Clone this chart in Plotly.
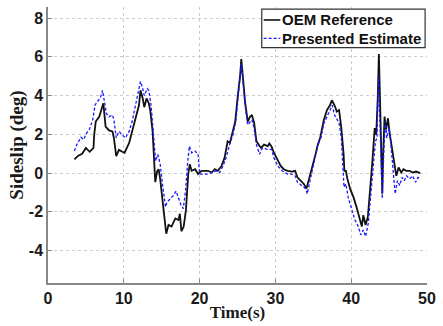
import plotly.graph_objects as go

# OEM reference (black, solid)
t_ref = [3.48, 4.0, 4.5, 5.0, 5.5, 6.0, 6.1, 6.3, 6.75, 7.0, 7.3, 7.6, 8.05, 8.5, 8.7, 9.0, 9.36, 9.8, 10.1,
         10.7, 11.1, 11.5, 12.0, 12.2, 12.5, 12.7, 13.0, 13.3, 13.5, 13.8, 14.0, 14.15, 14.4, 14.6, 14.8, 15.0,
         15.3, 15.6, 15.9, 16.3, 16.8, 17.2, 17.4, 17.6, 17.9, 18.2, 18.5, 18.7, 18.95, 19.4, 19.8, 20.25,
         21.1, 21.6, 22.0, 22.4, 22.9, 23.3, 23.7, 24.0, 24.4, 24.7, 25.0, 25.35, 25.5, 25.7, 26.0, 26.35,
         26.65, 26.9, 27.2, 27.5, 27.9, 28.1, 28.5, 29.0, 29.2, 29.5, 29.8, 30.3, 30.7, 31.1, 31.6, 32.2,
         32.6, 32.9, 33.3, 33.75, 34.1, 34.4, 34.8, 35.3, 35.6, 35.9, 36.4, 36.8, 37.2, 37.45, 37.8, 38.1,
         38.4, 38.7, 39.0, 39.1, 39.3, 39.5, 39.85, 40.3, 40.7, 41.2, 41.4, 41.6, 41.9, 42.2, 42.5, 42.8,
         43.1, 43.3, 43.5, 43.65, 43.8, 44.0, 44.1, 44.2, 44.4, 44.6, 44.85, 45.1, 45.4, 45.7, 45.95, 46.25,
         46.6, 46.9, 47.25, 47.7, 48.1, 48.55, 49.1]
v_ref = [0.71, 0.9, 1.0, 1.3, 1.1, 1.3, 2.0, 2.66, 2.9, 3.2, 3.6, 2.4, 2.2, 2.15, 1.8, 0.88, 1.2, 1.1, 1.05,
         1.55, 2.2, 2.8, 3.5, 4.27, 3.85, 3.4, 3.85, 3.6, 3.2, 2.15, 0.8, -0.47, 0.1, 0.2, -0.3, -0.9,
         -2.08, -3.13, -2.67, -2.76, -2.34, -2.42, -2.1, -3.0, -2.76, -1.9, -0.05, 0.46, 0.12, 0.2, -0.05, 0.12,
         0.12, 0.03, 0.2, 0.12, 0.37, 0.8, 1.64, 1.56, 2.15, 2.66, 3.85, 5.03, 5.88, 5.03, 3.68, 2.66,
         2.9, 3.0, 2.58, 1.64, 1.39, 1.3, 1.47, 1.39, 1.53, 1.36, 1.05, 0.63, 0.37, 0.2, 0.12, 0.08,
         0.12, -0.22, -0.39, -0.56, -0.8, -0.39, 0.2, 0.97, 1.47, 1.81, 2.75, 3.25, 3.5, 3.76, 3.5, 3.17,
         3.25, 2.32, 0.97, 0.12, 0.12, -0.3, -0.8, -1.24, -1.75, -2.42, -2.76, -2.17, -2.68, -2.25, -0.9, 0.63,
         2.32, 1.98, 3.85, 6.14, 3.85, 0.12, -1.07, 0.8, 2.92, 2.24, 2.83, 1.98, 1.14, 0.29, -0.14, 0.29,
         0.03, 0.2, 0.12, 0.12, 0.03, 0.08, 0.0]

# Presented estimate (blue, dashed)
t_est = [3.48, 3.8, 4.35, 4.7, 5.1, 5.45, 5.9, 6.2, 6.5, 6.9, 7.2, 7.5, 7.7, 8.05, 8.5, 8.7, 9.0, 9.36, 9.8,
         10.2, 10.7, 11.1, 11.5, 12.0, 12.2, 12.5, 12.7, 13.1, 13.3, 13.6, 13.85, 14.07, 14.2, 14.5, 14.8,
         15.1, 15.5, 15.7, 16.1, 16.55, 16.9, 17.2, 17.55, 17.85, 18.15, 18.4, 18.65, 18.95, 19.4, 19.8,
         20.0, 20.5, 21.1, 21.6, 22.2, 22.65, 23.1, 23.5, 23.95, 24.4, 24.8, 25.1, 25.5, 25.75, 26.0, 26.35,
         26.65, 26.9, 27.2, 27.5, 27.9, 28.3, 29.0, 29.5, 29.8, 30.3, 30.9, 31.6, 32.2, 32.6, 32.9, 33.5,
         34.0, 34.2, 34.5, 34.8, 35.3, 35.6, 36.0, 36.4, 36.8, 37.2, 37.5, 37.8, 38.1, 38.4, 38.7, 38.9,
         39.05, 39.3, 39.6, 40.1, 40.5, 40.95, 41.25, 41.6, 41.9, 42.25, 42.55, 42.9, 43.2, 43.4, 43.6,
         43.8, 44.0, 44.1, 44.3, 44.5, 44.7, 45.0, 45.2, 45.5, 45.8, 46.1, 46.4, 46.7, 47.0, 47.3, 47.7,
         48.1, 48.5, 48.8, 49.1]
v_est = [1.14, 1.47, 1.85, 1.73, 2.07, 2.24, 2.75, 3.5, 3.68, 3.88, 4.27, 3.5, 3.08, 2.9, 3.0, 2.75, 1.81, 2.15, 1.98,
         1.81, 2.15, 2.66, 3.42, 4.44, 4.73, 4.36, 4.0, 4.36, 4.27, 3.5, 2.15, 1.14, 0.63, 0.97, 0.46,
         -0.56, -1.75, -1.5, -1.32, -1.15, -0.93, -1.24, -1.66, -1.83, -0.9, 0.46, 1.39, 1.05, 1.14, 0.97,
         -0.05, -0.05, -0.05, 0.03, 0.12, 0.03, 0.37, 0.8, 1.47, 1.98, 2.75, 4.0, 5.63, 4.6, 3.5, 2.49,
         2.66, 2.75, 2.32, 1.47, 0.97, 1.3, 1.22, 1.22, 0.8, 0.37, 0.12, -0.05, -0.05, -0.14, -0.47, -0.64,
         -0.8, -1.07, -0.56, 0.12, 0.8, 1.47, 1.81, 2.58, 2.9, 3.25, 3.5, 3.0, 2.75, 2.58, 1.81, 0.12,
         -0.73, -0.56, -1.24, -1.92, -2.42, -2.76, -3.19, -2.93, -3.27, -2.59, -1.24, 0.46, 1.64, 1.81, 5.03,
         2.49, -0.56, -1.32, 1.14, 2.66, 1.81, 2.32, 1.64, 0.29, -1.07, -0.39, -0.64, -0.22, -0.39, -0.14, -0.3,
         -0.14, -0.47, -0.22, -0.3]

x_ticks = [0, 10, 20, 30, 40, 50]
y_ticks = [-4, -2, 0, 2, 4, 6, 8]
legend_names = ["OEM Reference", "Presented Estimate"]

fig = go.Figure()
fig.add_trace(go.Scatter(x=t_ref, y=v_ref, mode="lines", name=legend_names[0],
                         line=dict(color="#111111", width=1.8), showlegend=False))
fig.add_trace(go.Scatter(x=t_est, y=v_est, mode="lines", name=legend_names[1],
                         line=dict(color="#1a1aff", width=1.3, dash="3px,2px"), showlegend=False))

axis_common = dict(showline=True, linecolor="#888888", linewidth=1.5, mirror=False,
                   showgrid=True, gridcolor="#cccccc", griddash="dot", gridwidth=1,
                   ticks="inside", ticklen=4, tickcolor="#888888", zeroline=False,
                   tickfont=dict(family="Arial, Liberation Sans", size=16, color="#1a1a1a", weight="bold"))

fig.update_xaxes(range=[0, 50], tickvals=x_ticks, ticktext=[str(v) for v in x_ticks],
                 title=dict(text="<b>Time(s)</b>", standoff=0,
                            font=dict(family="Liberation Serif, Times New Roman", size=17, color="#1a1a1a")),
                 **axis_common)
fig.update_yaxes(range=[-5.67, 8.57], tickvals=y_ticks, ticktext=[str(v) for v in y_ticks],
                 title=dict(text="<b>Sideslip (deg)</b>", standoff=0,
                            font=dict(family="Liberation Serif, Times New Roman", size=19, color="#1a1a1a")),
                 **axis_common)

# Legend drawn as a framed box in the upper right of the plot
lx0, lx1, ly0, ly1 = 0.564, 0.995, 0.8525, 0.992
fig.add_shape(type="rect", xref="paper", yref="paper", x0=lx0, x1=lx1, y0=ly0, y1=ly1,
              line=dict(color="#333333", width=1.2), fillcolor="white", layer="above")
rows = [(0.953, "#111111", "solid", 1.6), (0.886, "#1a1aff", "3px,2px", 1.3)]
for (yy, col, dash, w), name in zip(rows, legend_names):
    fig.add_shape(type="line", xref="paper", yref="paper", x0=0.569, x1=0.613, y0=yy, y1=yy,
                  line=dict(color=col, width=w, dash=dash), layer="above")
    fig.add_annotation(xref="paper", yref="paper", x=0.612, y=yy, xanchor="left", yanchor="middle",
                       text="<b>" + name + "</b>", showarrow=False,
                       font=dict(family="Arial, Liberation Sans", size=15, color="#111111"))

fig.update_layout(width=443, height=326, margin=dict(l=48, r=12, t=7, b=39),
                  paper_bgcolor="white", plot_bgcolor="white", showlegend=False)

fig.write_html("out.html")
